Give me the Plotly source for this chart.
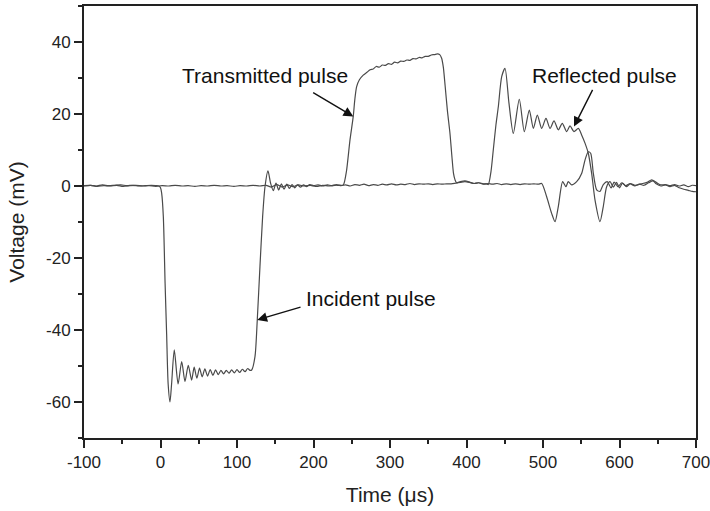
import plotly.graph_objects as go

# ---------------- data ----------------
# Incident-bar gauge: incident pulse + reflected pulse
inc_pre_t = [-100, -92, -84, -76, -68, -60, -52, -44, -36, -28, -20, -12, -6, -2]
inc_pre_v = [0.1, 0.2, 0.0, 0.3, 0.1, 0.2, 0.3, 0.1, 0.2, 0.0, 0.1, 0.2, 0.1, 0.0]

inc_pulse_t = [0, 1.5, 3.7, 6, 8, 10, 12.4, 14.5, 18, 23, 27.7, 32, 36.3, 40.7,
               44, 47.5, 51, 54.5, 58, 61.5, 65, 68.5, 72, 75.5, 79, 82.5, 86,
               89.5, 93, 96.5, 100, 103.5, 107, 110.5, 114, 117, 119.2,
               123.5, 126.5, 130, 133.5, 136.6]
inc_pulse_v = [-0.5, -2, -8.5, -27, -41, -55, -60, -55, -45.5, -55, -48.8, -54.3, -49.8, -53.9,
               -50.3, -53.4, -50.6, -53.0, -50.8, -52.8, -51.0, -52.6, -51.1, -52.4, -51.2, -52.2, -51.2,
               -52.0, -51.1, -51.9, -51.0, -51.8, -50.9, -51.6, -50.7, -51.2, -51.1,
               -47.4, -37.2, -22.4, -8.5, -0.2]

inc_ring_t = [140.5, 144, 147.5, 151, 154.5, 158, 161.5, 165, 168.5, 172, 175.5, 179,
              183, 187, 191, 195]
inc_ring_v = [4.2, 0.7, -1.3, 0.8, -1.1, 0.6, -0.9, 0.5, -0.7, 0.4, -0.5, 0.3,
              -0.3, 0.3, -0.2, 0.4]

inc_base_t = [200, 206, 212, 218, 224, 230, 236, 242, 248, 254, 260, 266, 272, 278,
              284, 290, 296, 302, 308, 314, 320, 326, 332, 338, 344, 350, 356, 362,
              368, 374, 380, 386, 392, 398, 404, 410, 416, 422, 426]
inc_base_v = [0.1, 0.3, 0.0, 0.3, 0.1, 0.4, 0.1, 0.3, 0.0, 0.4, 0.2, 0.5, 0.1, 0.4,
              0.2, 0.5, 0.3, 0.6, 0.3, 0.5, 0.4, 0.7, 0.4, 0.6, 0.5, 0.6, 0.4, 0.6,
              0.5, 0.6, 0.6, 0.8, 1.0, 1.2, 1.0, 0.7, 0.9, 0.6, 0.6]

refl_t = [428.5, 432, 435, 438.5, 441.6, 446, 450.3, 455.5, 461.2, 469, 475.6, 482.1,
          487.4, 492.6, 498.3, 503.9, 509.2, 514.4, 520, 525.2, 530.9, 535.3, 540.5,
          546.2, 550.5, 554.9, 559.2, 563.6, 568, 574.5, 578.8, 583.2]
refl_v = [0.4, 4, 10, 17, 22, 30.4, 32.7, 23, 14.6, 24.1, 15.1, 21.1,
          16.0, 19.7, 16.0, 18.8, 16.0, 18.1, 15.6, 17.4, 15.1, 16.7, 15.1,
          16.0, 14.2, 11.9, 9.1, 3.5, -3.9, -9.9, -5.7, -0.2]

inc_tail_t = [587.6, 592, 596, 600, 604, 609, 614, 620, 626, 632, 638, 644, 648,
              654, 660, 666, 672, 678, 684, 690, 695, 700]
inc_tail_v = [1.2, -0.3, 1.0, -0.5, 0.8, -0.2, 0.6, 0.0, 0.5, 0.2, 0.9, 1.4, 0.6,
              0.0, 0.3, -0.2, 0.2, -0.5, -0.9, -1.2, -1.5, -1.6]

# Transmitted-bar gauge: transmitted pulse
tr_pre_t = [-100, -91, -83, -74, -66, -57, -49, -40, -32, -23, -15, -6, 2, 11, 19,
            28, 36, 45, 53, 62, 70, 79, 87, 96, 104, 113, 121, 130, 138, 145,
            152, 159, 166, 173, 180, 188, 196, 204, 212, 220, 228, 235]
tr_pre_v = [0.0, 0.2, -0.1, 0.1, 0.0, 0.2, -0.1, 0.1, 0.2, 0.0, 0.1, -0.1, 0.1, 0.0, 0.2,
            0.0, 0.1, -0.1, 0.1, 0.0, 0.2, 0.0, 0.1, -0.1, 0.1, 0.0, 0.2, 0.0, 0.2, -0.3,
            0.4, -0.3, 0.3, -0.2, 0.3, 0.0, 0.2, -0.1, 0.2, 0.0, 0.2, 0.2]

tr_pulse_t = [239, 243, 247.7, 252, 254, 256.4, 260, 265, 270, 274, 278, 282, 286,
              290, 294, 298, 302, 306, 310, 314, 318, 322, 326, 330, 334, 338,
              342, 346, 350, 354, 358, 362, 365, 367.5, 369.7, 372, 375, 378.4,
              381, 383, 385, 387]
tr_pulse_v = [0.3, 4, 12.8, 19.4, 24, 27.6, 29.5, 30.8, 31.6, 32.3, 32.5, 33.2, 33.0,
              33.6, 33.5, 34.0, 33.8, 34.4, 34.2, 34.7, 34.6, 35.0, 34.9, 35.4, 35.3, 35.7,
              35.6, 36.0, 36.0, 36.4, 36.5, 36.7, 36.5, 35.5, 33, 28, 21, 14.6,
              8, 3.5, 1.7, 0.9]

tr_base_t = [392, 398, 404, 410, 416, 422, 428, 434, 440, 446, 452, 458, 464, 470,
             476, 482, 488, 494, 498.3]
tr_base_v = [1.2, 1.4, 1.1, 0.7, 0.9, 0.5, 0.7, 0.5, 0.7, 0.4, 0.6, 0.4, 0.6, 0.4,
             0.6, 0.5, 0.6, 0.5, 0.7]

tr_tail_t = [504.8, 511.3, 515.7, 520, 525.7, 530, 533, 537.5, 544, 550.5, 554.9,
             559.2, 562.3, 565.8, 570.2, 574.5, 578.8, 584, 589, 593, 598, 603, 608,
             614, 620, 628, 636, 642, 648, 654, 660, 666, 672, 678, 684, 690, 695, 700]
tr_tail_v = [-3, -7.6, -9.9, -5.7, 1.2, -0.2, 1.2, 0.3, 1.2, 3.5, 7.2,
             9.5, 9.1, 3.5, -1.1, -1.5, 0.4, 1.2, -0.5, 1.1, -0.2, 0.9, 0.1,
             0.7, 0.2, 0.6, 1.0, 1.7, 1.0, 0.3, 0.4, 0.1, 0.4, 0.0, 0.3, -0.2, 0.2, 0.1]

x_ticks = [-100, 0, 100, 200, 300, 400, 500, 600, 700]
y_ticks = [-60, -40, -20, 0, 20, 40]

labels = ["Transmitted pulse", "Reflected pulse", "Incident pulse"]
label_x = [136.6, 581, 275]
label_y = [30.6, 30.8, -31.3]
arrow_head_x = [252.0, 540.5, 126.5]
arrow_head_y = [19.3, 16.5, -37.2]
arrow_tail_x = [197.6, 565.8, 185]
arrow_tail_y = [26.2, 27.1, -33.5]

# ---------------- figure ----------------
inc_t = inc_pre_t + inc_pulse_t + inc_ring_t + inc_base_t + refl_t + inc_tail_t
inc_v = inc_pre_v + inc_pulse_v + inc_ring_v + inc_base_v + refl_v + inc_tail_v
tr_t = tr_pre_t + tr_pulse_t + tr_base_t + tr_tail_t
tr_v = tr_pre_v + tr_pulse_v + tr_base_v + tr_tail_v

FONT = "Liberation Sans, Arial, sans-serif"
LINE = "#4a4a4a"

fig = go.Figure()
fig.add_trace(go.Scatter(x=tr_t, y=tr_v, mode="lines",
                         line=dict(color=LINE, width=1.2, shape="spline", smoothing=0.7),
                         showlegend=False, hoverinfo="skip"))
fig.add_trace(go.Scatter(x=inc_t, y=inc_v, mode="lines",
                         line=dict(color=LINE, width=1.2, shape="spline", smoothing=0.7),
                         showlegend=False, hoverinfo="skip"))

annotations = []
for txt, lx, ly in zip(labels, label_x, label_y):
    annotations.append(dict(x=lx, y=ly, xref="x", yref="y", text=txt, showarrow=False,
                            xanchor="center", yanchor="middle",
                            font=dict(family=FONT, size=21, color="#111")))
for hx, hy, tx, ty in zip(arrow_head_x, arrow_head_y, arrow_tail_x, arrow_tail_y):
    annotations.append(dict(x=hx, y=hy, xref="x", yref="y", ax=tx, ay=ty,
                            axref="x", ayref="y", text="", showarrow=True,
                            arrowhead=2, arrowsize=1.4, arrowwidth=1.4,
                            arrowcolor="#111", standoff=0, startstandoff=0))

fig.update_layout(
    width=710, height=511,
    margin=dict(l=84, r=14, t=6, b=73),
    paper_bgcolor="white", plot_bgcolor="white",
    font=dict(family=FONT, size=17, color="#222"),
    annotations=annotations,
    showlegend=False,
)
fig.update_xaxes(
    range=[-100, 700], showgrid=False, zeroline=False, automargin=False,
    showline=True, linecolor="#222", linewidth=2, mirror=True,
    ticks="outside", ticklen=8, tickwidth=1.5, tickcolor="#222",
    tickmode="array", tickvals=x_ticks, ticktext=[str(v) for v in x_ticks],
    tickfont=dict(size=17, color="#222"), ticklabeloverflow="allow",
    minor=dict(ticks="outside", ticklen=4, tickwidth=1.5, tickcolor="#222",
               tickmode="linear", tick0=-50, dtick=100, showgrid=False),
    title=dict(text="Time (μs)", font=dict(size=21, color="#222"), standoff=16),
)
fig.update_yaxes(
    range=[-70, 50], showgrid=False, zeroline=False, automargin=False,
    showline=True, linecolor="#222", linewidth=2, mirror=True,
    ticks="outside", ticklen=8, tickwidth=1.5, tickcolor="#222",
    tickmode="array", tickvals=y_ticks, ticktext=[str(v) for v in y_ticks],
    tickfont=dict(size=17, color="#222"), ticklabeloverflow="allow",
    minor=dict(ticks="outside", ticklen=4, tickwidth=1.5, tickcolor="#222",
               tickmode="linear", tick0=-50, dtick=20, showgrid=False),
    title=dict(text="Voltage (mV)", font=dict(size=21, color="#222"), standoff=16),
)

fig.write_html("out.html")
